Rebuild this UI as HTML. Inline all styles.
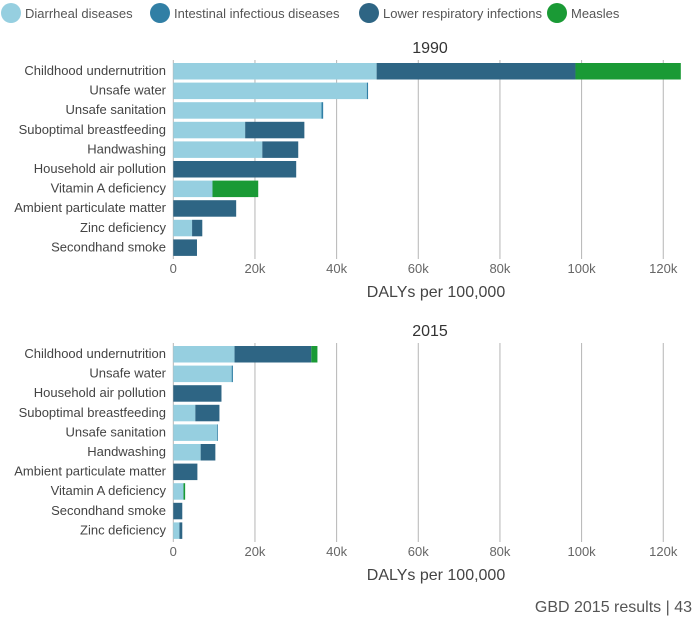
<!DOCTYPE html>
<html><head><meta charset="utf-8"><style>
body{margin:0;background:#fff;font-family:"Liberation Sans",sans-serif;}
svg text{font-family:"Liberation Sans",sans-serif;}
</style></head><body>
<svg id="chart" width="696" height="616" xmlns="http://www.w3.org/2000/svg">
<g font-size="13" fill="#555">
 <circle cx="11" cy="13" r="10" fill="#96cfe0"/>
 <text x="25" y="18">Diarrheal diseases</text>
 <circle cx="160" cy="13" r="10" fill="#317fa5"/>
 <text x="174" y="18">Intestinal infectious diseases</text>
 <circle cx="369" cy="13" r="10" fill="#2e6584"/>
 <text x="383" y="18">Lower respiratory infections</text>
 <circle cx="557" cy="13" r="10" fill="#1a9a35"/>
 <text x="571" y="18">Measles</text>
</g>
<text x="692" y="612" text-anchor="end" font-size="16" fill="#555">GBD 2015 results  |  43</text>
</svg>
<script>
const ticks=[0,20,40,60,80,100,120];
const tickLabels=["0","20k","40k","60k","80k","100k","120k"];
const seriesNames=["diarrheal","intestinal","lri","measles"];
const colors=["#96cfe0","#317fa5","#2e6584","#1a9a35"];
const cats1990=["Childhood undernutrition","Unsafe water","Unsafe sanitation","Suboptimal breastfeeding","Handwashing","Household air pollution","Vitamin A deficiency","Ambient particulate matter","Zinc deficiency","Secondhand smoke"];
const diar1990=[49.8,47.4,36.3,17.6,21.8,0,9.6,0,4.6,0];
const inte1990=[0,0.3,0.4,0,0,0,0,0,0,0];
const lri1990=[48.7,0,0,14.5,8.8,30.1,0,15.4,2.5,5.8];
const meas1990=[25.8,0,0,0,0,0,11.2,0,0,0];
const cats2015=["Childhood undernutrition","Unsafe water","Household air pollution","Suboptimal breastfeeding","Unsafe sanitation","Handwashing","Ambient particulate matter","Vitamin A deficiency","Secondhand smoke","Zinc deficiency"];
const diar2015=[15.0,14.3,0,5.4,10.7,6.7,0,2.5,0,1.5];
const inte2015=[0,0.3,0,0,0.2,0,0,0,0,0];
const lri2015=[18.8,0,11.8,5.9,0,3.6,5.9,0,2.2,0.7];
const meas2015=[1.5,0,0,0,0,0,0,0.4,0,0];
const NS="http://www.w3.org/2000/svg";
const svg=document.getElementById('chart');
function mk(tag,attrs,parent){const e=document.createElementNS(NS,tag);for(const k in attrs)e.setAttribute(k,attrs[k]);parent.appendChild(e);return e;}
function xScale(v){return 173.3+v*4.083;}
function drawPanel(title,top,cats,series){
 const g=mk('g',{},svg);
 
 
 const t=mk('text',{x:430,y:top-10,'text-anchor':'middle','font-size':16,fill:'#333'},g);t.textContent=title;
 
 
 const axisBottom=top+196;
 ticks.forEach((v,i)=>{
  const l=mk('line',{x1:xScale(v),x2:xScale(v),y1:top-3,y2:axisBottom,stroke:'#b5b5b5','stroke-width':1},g);
  
  
  const tl=mk('text',{x:xScale(v),y:axisBottom+14,'text-anchor':'middle','font-size':13,fill:'#666'},g);tl.textContent=tickLabels[i];
  
  
 });
 const at=mk('text',{x:436,y:axisBottom+38,'text-anchor':'middle','font-size':16,fill:'#444'},g);at.textContent='DALYs per 100,000';
 
 
 const step=19.6;
 cats.forEach((c,i)=>{
  const y=top+i*step;
  const lb=mk('text',{x:166,y:y+12,'text-anchor':'end','font-size':13,fill:'#444'},g);lb.textContent=c;
  
  
  let acc=0;
  series.forEach((s,si)=>{
   const v=s[i];if(!v)return;
   const r=mk('rect',{x:xScale(acc),y:y,width:xScale(acc+v)-xScale(acc),height:16.5,fill:colors[si]},g);
   
   
   acc+=v;
  });
 });
}
drawPanel('1990',63,cats1990,[diar1990,inte1990,lri1990,meas1990]);
drawPanel('2015',346,cats2015,[diar2015,inte2015,lri2015,meas2015]);
</script>
</body></html>
